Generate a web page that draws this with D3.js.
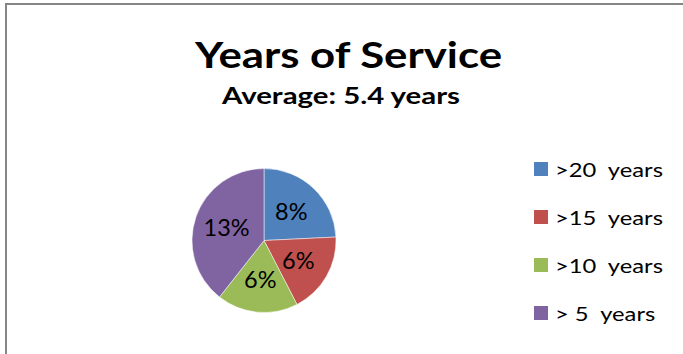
<!DOCTYPE html>
<html lang="en">
<head>
  <meta charset="UTF-8">
  <title>Years of Service</title>
  <script src="https://d3js.org/d3.v7.min.js"></script>
  <style>
    body { margin: 0; background: #fff; }
    svg { display: block; font-family: Lato, "Open Sans", sans-serif; }
  </style>
</head>
<body>
  <svg width="683" height="354"></svg>
  <script>
    const categories = [">20  years", ">15  years", ">10  years", "> 5  years"];
    const values = [8, 6, 6, 13];
    const colors = ["#4F81BD", "#C0504D", "#9BBB59", "#8064A2"];

    const svg = d3.select("svg");

    // chart frame (only top and left edges show in the picture)
    svg.append("path")
      .attr("d", "M6,354V4H683")
      .attr("fill", "none")
      .attr("stroke", "#868686")
      .attr("stroke-width", 2);

    // the original text is a bit wider than Lato, so stretch it to fit
    svg.append("text")
      .attr("x", 195).attr("y", 68)
      .attr("font-weight", "bold")
      .attr("font-size", 37)
      .attr("textLength", 307)
      .attr("lengthAdjust", "spacingAndGlyphs")
      .text("Years of Service");

    svg.append("text")
      .attr("x", 222).attr("y", 104)
      .attr("font-weight", "bold")
      .attr("font-size", 22)
      .attr("textLength", 238)
      .attr("lengthAdjust", "spacingAndGlyphs")
      .text("Average: 5.4 years");

    const cx = 264, cy = 240.5, radius = 72;
    const data = categories.map((c, i) => ({ name: c, value: values[i], color: colors[i] }));

    const pie = d3.pie().value(d => d.value).sort(null);
    const arc = d3.arc().innerRadius(0).outerRadius(radius);
    const labelArc = d3.arc().innerRadius(radius * 0.55).outerRadius(radius * 0.55);

    const g = svg.append("g").attr("transform", `translate(${cx},${cy})`);
    const arcs = pie(data);

    g.selectAll("path.slice")
      .data(arcs)
      .join("path")
      .attr("class", "slice")
      .attr("d", arc)
      .attr("fill", d => d.data.color)
      .attr("stroke", "#fff")
      .attr("stroke-width", 0.5);

    g.selectAll("text.lbl")
      .data(arcs)
      .join("text")
      .attr("class", "lbl")
      .attr("transform", d => `translate(${labelArc.centroid(d)})`)
      .attr("text-anchor", "middle")
      .attr("dy", "0.36em")
      .attr("font-size", 23.5)
      .attr("fill", "#000")
      .text(d => d.data.value + "%");

    // legend
    const legendY = d3.scalePoint().domain(categories).range([169, 313]);
    const items = svg.append("g").selectAll("g")
      .data(data)
      .join("g")
      .attr("transform", d => `translate(534,${legendY(d.name)})`);

    items.append("rect")
      .attr("x", 0).attr("y", -7)
      .attr("width", 14).attr("height", 14)
      .attr("fill", d => d.color);

    const labels = items.append("text")
      .attr("y", 7.5)
      .attr("font-size", 20)
      .style("white-space", "pre")
      .text(d => d.name);

    const k = 108 / labels.node().getComputedTextLength();
    labels.attr("transform", `translate(21,0) scale(${k},1)`);
  </script>
</body>
</html>
